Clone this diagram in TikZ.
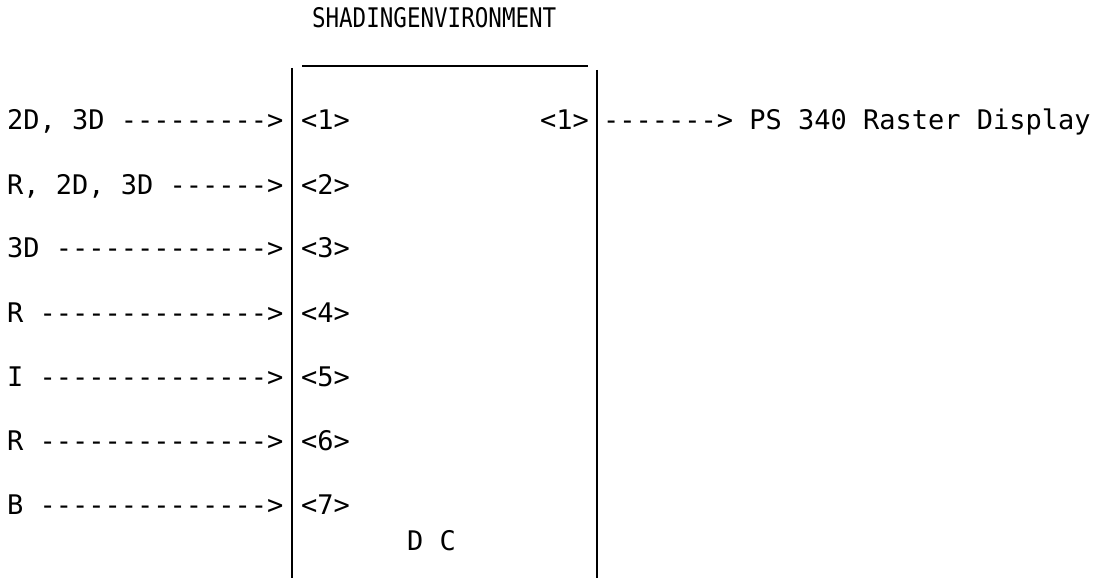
\documentclass[tikz,border=0pt]{standalone}
\usepackage{fontspec}
\newfontfamily\mono{DejaVu Sans Mono}
\begin{document}
\begin{tikzpicture}[x=1pt,y=-1pt,
  txt/.style={anchor=base west,inner sep=0pt,outer sep=0pt,font=\mono\fontsize{27}{30}\selectfont},
  boxline/.style={line width=2pt,black}]
\useasboundingbox (0,0) rectangle (1100,578);
% title
\node[txt] (title) at (312,28) {\scalebox{0.835}[1]{SHADINGENVIRONMENT}};
% box lines
\coordinate (lt) at (291.5,68);
\coordinate (lb) at (291.5,578);
\coordinate (rt) at (597,70);
\coordinate (rb) at (597,578);
\coordinate (hl) at (302,66);
\coordinate (hr) at (588,66);
\draw[boxline] (lt) -- (lb);
\draw[boxline] (rt) -- (rb);
\draw[line width=1.3pt] (hl) -- (hr);
% input labels
\node[txt] (in1) at (7,129.5) {2D, 3D --------->};
\node[txt] (in2) at (7,194.5) {R, 2D, 3D ------>};
\node[txt] (in3) at (7,257.5) {3D ------------->};
\node[txt] (in4) at (7,322.5) {R -------------->};
\node[txt] (in5) at (7,386.5) {I -------------->};
\node[txt] (in6) at (7,450.5) {R -------------->};
\node[txt] (in7) at (7,514.5) {B -------------->};
% ports
\node[txt] (p1) at (301,129.5) {<1>};
\node[txt] (p2) at (301,194.5) {<2>};
\node[txt] (p3) at (301,257.5) {<3>};
\node[txt] (p4) at (301,322.5) {<4>};
\node[txt] (p5) at (301,386.5) {<5>};
\node[txt] (p6) at (301,450.5) {<6>};
\node[txt] (p7) at (301,514.5) {<7>};
\node[txt] (o1) at (540,129.5) {<1>};
\node[txt] (dc) at (407,550) {D C};
\node[txt] (out) at (603,129.5) {-------> PS 340 Raster Display};
\end{tikzpicture}
\end{document}
